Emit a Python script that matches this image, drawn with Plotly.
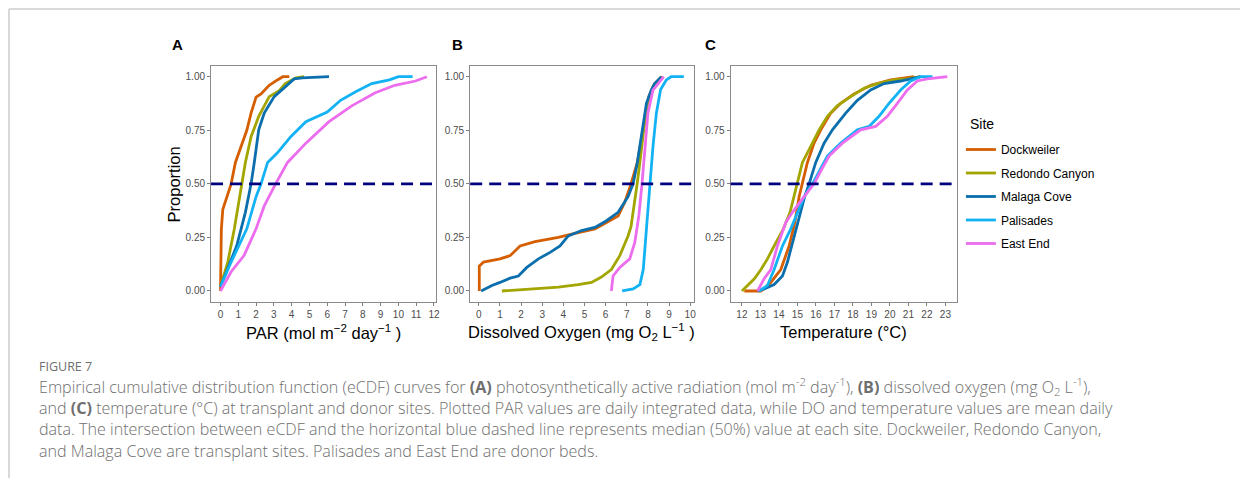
import plotly.graph_objects as go

# page offset (browser body margin) compensation
OFF = 8
W, H = 1248 - 2 * OFF, 486 - 2 * OFF

# ---------------- data ----------------
sites = ["Dockweiler", "Redondo Canyon", "Malaga Cove", "Palisades", "East End"]
site_colors = ["#D55E00", "#A3A500", "#0B6FAD", "#12B2F4", "#EC6DED"]

# Panel A: PAR (mol m-2 day-1)
par_dock_x = [0, 0.02, 0.05, 0.13, 0.3, 0.6, 0.84, 1.15, 1.48, 1.72, 2.0, 2.28, 2.74, 3.2, 3.5, 3.87]
par_dock_p = [0.0, 0.15, 0.29, 0.38, 0.42, 0.5, 0.6, 0.675, 0.75, 0.83, 0.905, 0.92, 0.96, 0.985, 1.0, 1.0]
par_redo_x = [0, 0.41, 0.78, 1.2, 1.4, 1.72, 2.15, 2.74, 3.3, 3.64, 4.24, 4.7]
par_redo_p = [0.02, 0.135, 0.29, 0.5, 0.6, 0.72, 0.815, 0.907, 0.935, 0.968, 0.995, 1.0]
par_mala_x = [0, 0.3, 0.6, 0.91, 1.4, 1.72, 1.9, 2.15, 2.46, 3.02, 3.67, 4.14, 4.6, 6.1]
par_mala_p = [0.02, 0.08, 0.14, 0.21, 0.367, 0.5, 0.6, 0.752, 0.83, 0.907, 0.955, 0.99, 0.995, 1.0]
par_pali_x = [0, 0.6, 1.48, 2.0, 2.28, 2.65, 3.2, 3.95, 4.8, 6.0, 6.75, 7.6, 8.5, 9.5, 10.0, 10.8]
par_pali_p = [0.02, 0.135, 0.29, 0.44, 0.5, 0.6, 0.645, 0.72, 0.79, 0.835, 0.89, 0.93, 0.968, 0.985, 1.0, 1.0]
par_east_x = [0, 0.6, 1.32, 2.0, 2.46, 3.1, 3.77, 4.8, 6.1, 7.4, 8.7, 9.8, 10.96, 11.6]
par_east_p = [0.0, 0.09, 0.165, 0.29, 0.397, 0.5, 0.6, 0.69, 0.79, 0.865, 0.925, 0.96, 0.98, 1.0]

# Panel B: dissolved oxygen (mg O2 L-1)
do_dock_x = [0.02, 0.02, 0.22, 1.0, 1.48, 1.95, 2.66, 3.76, 4.39, 5.49, 6.04, 6.59, 6.9, 7.2, 7.5, 7.69, 7.88, 8.04, 8.32, 8.55, 8.67]
do_dock_p = [0.0, 0.116, 0.135, 0.15, 0.165, 0.21, 0.23, 0.25, 0.265, 0.29, 0.32, 0.35, 0.413, 0.5, 0.6, 0.71, 0.83, 0.907, 0.968, 0.99, 1.0]
do_redo_x = [1.09, 2.0, 2.82, 3.76, 4.7, 5.33, 5.8, 6.27, 6.67, 7.06, 7.2, 7.38, 7.49, 7.62, 7.8, 8.0, 8.24, 8.64]
do_redo_p = [0.0, 0.005, 0.011, 0.018, 0.03, 0.04, 0.065, 0.1, 0.165, 0.257, 0.30, 0.413, 0.5, 0.6, 0.752, 0.876, 0.955, 1.0]
do_mala_x = [0.11, 0.62, 1.0, 1.48, 1.87, 2.27, 2.82, 3.37, 3.84, 4.23, 4.86, 5.49, 6.04, 6.59, 7.06, 7.3, 7.5, 7.72, 7.93, 8.16, 8.32, 8.64]
do_mala_p = [0.0, 0.026, 0.04, 0.06, 0.07, 0.11, 0.15, 0.18, 0.21, 0.257, 0.282, 0.297, 0.328, 0.367, 0.44, 0.5, 0.6, 0.752, 0.876, 0.938, 0.968, 1.0]
do_pali_x = [6.78, 7.3, 7.62, 7.78, 7.93, 8.09, 8.24, 8.4, 8.6, 8.87, 9.1, 9.7]
do_pali_p = [0.0, 0.01, 0.03, 0.1, 0.29, 0.5, 0.675, 0.83, 0.94, 0.985, 1.0, 1.0]
do_east_x = [6.27, 6.35, 6.67, 7.14, 7.38, 7.57, 7.72, 7.85, 8.0, 8.24, 8.75]
do_east_p = [0.0, 0.07, 0.11, 0.15, 0.227, 0.35, 0.5, 0.675, 0.83, 0.938, 1.0]

# Panel C: temperature (degC)
tmp_dock_x = [12.13, 13.03, 13.56, 14.1, 14.55, 14.86, 15.09, 15.27, 15.54, 15.9, 16.26, 16.8, 17.34, 18.06, 18.96, 20.04, 21.3]
tmp_dock_p = [0.0, 0.0, 0.04, 0.1, 0.21, 0.32, 0.44, 0.5, 0.6, 0.69, 0.752, 0.83, 0.876, 0.92, 0.96, 0.985, 1.0]
tmp_redo_x = [12.0, 12.31, 12.67, 13.03, 13.38, 13.74, 14.24, 14.6, 14.82, 15.0, 15.27, 15.72, 16.17, 16.62, 17.16, 17.88, 18.6, 19.32, 20.22, 20.94, 21.66]
tmp_redo_p = [0.0, 0.026, 0.057, 0.1, 0.15, 0.21, 0.29, 0.367, 0.44, 0.5, 0.6, 0.675, 0.752, 0.815, 0.865, 0.907, 0.946, 0.968, 0.985, 0.99, 1.0]
tmp_mala_x = [12.84, 13.2, 13.74, 14.19, 14.46, 14.82, 15.18, 15.39, 15.63, 15.99, 16.44, 16.89, 17.61, 18.24, 18.96, 19.68, 20.58, 21.12, 21.66]
tmp_mala_p = [0.0, 0.01, 0.03, 0.07, 0.135, 0.257, 0.367, 0.44, 0.5, 0.6, 0.69, 0.752, 0.83, 0.89, 0.938, 0.968, 0.98, 0.99, 1.0]
tmp_pali_x = [12.93, 13.38, 13.74, 14.19, 14.64, 15.0, 15.36, 15.81, 16.17, 16.62, 17.34, 18.24, 18.87, 19.41, 19.95, 20.58, 21.12, 21.66, 22.3]
tmp_pali_p = [0.0, 0.026, 0.1, 0.21, 0.29, 0.367, 0.44, 0.5, 0.56, 0.63, 0.69, 0.752, 0.768, 0.815, 0.876, 0.938, 0.98, 1.0, 1.0]
tmp_east_x = [12.84, 13.2, 13.56, 13.92, 14.37, 14.73, 15.36, 15.9, 16.26, 16.71, 17.43, 18.42, 19.23, 19.86, 20.4, 20.94, 21.48, 22.02, 23.1]
tmp_east_p = [0.0, 0.057, 0.1, 0.21, 0.32, 0.367, 0.44, 0.5, 0.56, 0.63, 0.69, 0.752, 0.768, 0.815, 0.876, 0.938, 0.98, 0.99, 1.0]

median_level = 0.5
y_ticks = [0, 0.25, 0.5, 0.75, 1.0]
y_tick_labels = ["0.00", "0.25", "0.50", "0.75", "1.00"]
par_ticks = list(range(0, 13))
do_ticks = list(range(0, 11))
tmp_ticks = list(range(12, 24))

panels = [
    dict(xs=[par_dock_x, par_redo_x, par_mala_x, par_pali_x, par_east_x],
         ps=[par_dock_p, par_redo_p, par_mala_p, par_pali_p, par_east_p],
         title="PAR (mol m<sup>−2</sup> day<sup>−1</sup> )", ticks=par_ticks,
         rng=[-0.53, 12.13], letter="A"),
    dict(xs=[do_dock_x, do_redo_x, do_mala_x, do_pali_x, do_east_x],
         ps=[do_dock_p, do_redo_p, do_mala_p, do_pali_p, do_east_p],
         title="Dissolved Oxygen (mg O<sub>2</sub> L<sup>−1</sup> )", ticks=do_ticks,
         rng=[-0.41, 10.17], letter="B"),
    dict(xs=[tmp_dock_x, tmp_redo_x, tmp_mala_x, tmp_pali_x, tmp_east_x],
         ps=[tmp_dock_p, tmp_redo_p, tmp_mala_p, tmp_pali_p, tmp_east_p],
         title="Temperature (°C)", ticks=tmp_ticks,
         rng=[11.39, 23.62], letter="C"),
]

# ---------------- layout geometry (window pixel coords) ----------------
px_x = lambda v: (v - OFF) / W
px_y = lambda v: 1 - (v - OFF) / H
domains_x = [(211.7, 437.7), (471.7, 696.0), (733.0, 960.0)]
dom_y = [px_y(301.7), px_y(66.0)]
letter_x = [178, 459, 713]

FONT = "Liberation Sans, Arial, sans-serif"
fig = go.Figure()

for i, pan in enumerate(panels):
    sfx = "" if i == 0 else str(i + 1)
    for j, site in enumerate(sites):
        fig.add_trace(go.Scatter(
            x=pan["xs"][j], y=pan["ps"][j], mode="lines", name=site,
            legendgroup=site, showlegend=(i == 0),
            line=dict(color=site_colors[j], width=2.8),
            xaxis="x" + sfx, yaxis="y" + sfx, hoverinfo="skip"))
    fig.add_shape(type="line", xref="x" + sfx + " domain", yref="y" + sfx,
                  x0=0, x1=1, y0=median_level, y1=median_level,
                  line=dict(color="#00007F", width=2.6, dash="12px,7px"), layer="above")
    ax = dict(domain=[px_x(domains_x[i][0]), px_x(domains_x[i][1])], anchor="y" + sfx,
              range=pan["rng"], tickvals=pan["ticks"], ticks="outside", ticklen=3,
              tickcolor="#7F7F7F", tickfont=dict(size=10, color="#4D4D4D", family=FONT),
              showgrid=False, zeroline=False, showline=True, mirror=True,
              linecolor="#8A8A8A", linewidth=1)
    ay = dict(domain=dom_y, anchor="x" + sfx, range=[-0.05, 1.05], tickvals=y_ticks,
              ticktext=y_tick_labels, ticks="outside", ticklen=3, tickcolor="#7F7F7F",
              tickfont=dict(size=10, color="#4D4D4D", family=FONT),
              showgrid=False, zeroline=False, showline=True, mirror=True,
              linecolor="#8A8A8A", linewidth=1)
    fig.update_layout(**{"xaxis" + sfx: ax, "yaxis" + sfx: ay})
    # x-axis title
    fig.add_annotation(text=pan["title"], xref="paper", yref="paper",
                       x=px_x(sum(domains_x[i]) / 2), y=px_y(332), showarrow=False,
                       xanchor="center", yanchor="middle",
                       font=dict(size=16.5, color="#000", family=FONT))
    # panel letter
    fig.add_annotation(text="<b>" + pan["letter"] + "</b>", xref="paper", yref="paper",
                       x=px_x(letter_x[i]), y=px_y(45), showarrow=False,
                       xanchor="center", yanchor="middle",
                       font=dict(size=15, color="#000", family=FONT))

# y-axis title
fig.add_annotation(text="Proportion", xref="paper", yref="paper", x=px_x(175), y=px_y(184),
                   textangle=-90, showarrow=False, xanchor="center", yanchor="middle",
                   font=dict(size=16.5, color="#000", family=FONT))

# legend title
fig.add_annotation(text="Site", xref="paper", yref="paper", x=px_x(971), y=px_y(124),
                   xanchor="left", yanchor="middle", showarrow=False,
                   font=dict(size=14, color="#000", family=FONT))

# outer frame
fig.add_shape(type="line", xref="paper", yref="paper", x0=px_x(9), x1=px_x(9),
              y0=-0.1, y1=px_y(9), line=dict(color="#CCCCCC", width=1.5))
fig.add_shape(type="line", xref="paper", yref="paper", x0=px_x(9), x1=1.1,
              y0=px_y(9), y1=px_y(9), line=dict(color="#CCCCCC", width=1.5))

# caption
CAP_FONT = "Open Sans, Lato, sans-serif"
cap_color = "#6E6E6E"
fig.add_annotation(text="FIGURE 7", xref="paper", yref="paper", x=px_x(37), y=px_y(366),
                   xanchor="left", yanchor="middle", showarrow=False,
                   font=dict(size=12.5, color=cap_color, family=CAP_FONT))
caption_lines = [
    "Empirical cumulative distribution function (eCDF) curves for <b>(A)</b> photosynthetically active radiation (mol m<sup>-2</sup> day<sup>-1</sup>), <b>(B)</b> dissolved oxygen (mg O<sub>2</sub> L<sup>-1</sup>),",
    "and <b>(C)</b> temperature (°C) at transplant and donor sites. Plotted PAR values are daily integrated data, while DO and temperature values are mean daily",
    "data. The intersection between eCDF and the horizontal blue dashed line represents median (50%) value at each site. Dockweiler, Redondo Canyon,",
    "and Malaga Cove are transplant sites. Palisades and East End are donor beds.",
]
cap_y = [386, 407.5, 429, 450.5]
for line, yy in zip(caption_lines, cap_y):
    fig.add_annotation(text=line, xref="paper", yref="paper", x=px_x(37), y=px_y(yy),
                       xanchor="left", yanchor="middle", showarrow=False,
                       font=dict(size=16.1, color=cap_color, family=CAP_FONT, weight=300))

fig.update_layout(
    width=W, height=H, margin=dict(l=0, r=0, t=0, b=0),
    paper_bgcolor="white", plot_bgcolor="white",
    font=dict(family=FONT),
    legend=dict(x=px_x(964), y=px_y(135), xanchor="left", yanchor="top",
                font=dict(size=12, color="#000", family=FONT),
                tracegroupgap=4.5, itemwidth=30, bgcolor="rgba(0,0,0,0)"),
)

fig.write_html("out.html")
